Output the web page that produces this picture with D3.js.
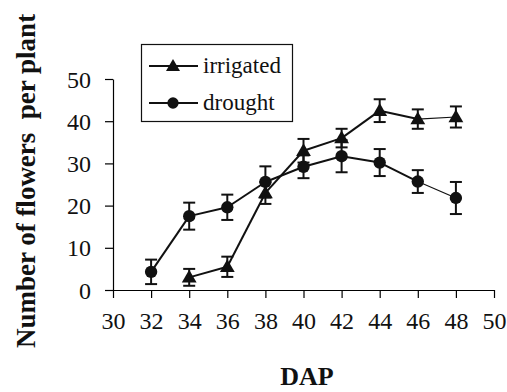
<!DOCTYPE html>
<html>
<head>
<meta charset="utf-8">
<script src="https://cdn.jsdelivr.net/npm/d3@7.9.0/dist/d3.min.js"></script>
<style>
  body { margin: 0; background: #fff; }
  svg text { font-family: 'Liberation Serif', 'Times New Roman', Times, serif; }
</style>
</head>
<body>
<svg width="507" height="392"></svg>
<script>
// values
const dap = [32, 34, 36, 38, 40, 42, 44, 46, 48];
const irrigated = [null, 3, 5.5, 23, 33, 36, 42.5, 40.5, 41];
const irrigatedErr = [null, 2, 2.4, 2.6, 2.8, 2.2, 2.7, 2.3, 2.5];
const drought = [4.3, 17.5, 19.6, 25.6, 29.2, 31.7, 30.2, 25.7, 21.8];
const droughtErr = [2.9, 3.2, 3, 3.7, 2.7, 3.8, 3.2, 2.7, 3.8];
const xTicks = [30, 32, 34, 36, 38, 40, 42, 44, 46, 48, 50];
const yTicks = [0, 10, 20, 30, 40, 50];

const serif = "'Liberation Serif', 'Times New Roman', Times, serif";
const svg = d3.select("svg");
const x = d3.scaleLinear().domain([30, 50]).range([113, 494]);
const y = d3.scaleLinear().domain([0, 50]).range([290, 79]);

// axes
const xAxis = svg.append("g")
  .attr("transform", `translate(0,${y(0)})`)
  .call(d3.axisBottom(x).tickValues(xTicks).tickSize(8).tickPadding(14).tickSizeOuter(0));
const yAxis = svg.append("g")
  .attr("transform", `translate(${x(30)},0)`)
  .call(d3.axisLeft(y).tickValues(yTicks).tickSize(8).tickPadding(14).tickSizeOuter(0));
[xAxis, yAxis].forEach(g => {
  g.attr("font-family", serif).attr("font-size", 24);
  g.select(".domain").attr("stroke", "#000").attr("stroke-width", 1.2);
  g.selectAll(".tick line").attr("stroke", "#000").attr("stroke-width", 1.2);
  g.selectAll(".tick text").attr("fill", "#111");
});
xAxis.selectAll(".tick text").attr("dy", "0.71em");
yAxis.selectAll(".tick text").attr("dy", "0.34em");

// titles
svg.append("text").attr("x", 307).attr("y", 385).attr("text-anchor", "middle")
  .attr("font-family", serif).attr("font-size", 26).attr("font-weight", "bold")
  .attr("fill", "#111").text("DAP");
svg.append("text").attr("transform", "translate(35,181) rotate(-90)").attr("text-anchor", "middle")
  .attr("font-family", serif).attr("font-size", 27).attr("font-weight", "bold")
  .attr("fill", "#111").text("Number of flowers\u00a0 per plant");

const series = [
  { name: "irrigated", vals: irrigated, err: irrigatedErr, shape: d3.symbolTriangle },
  { name: "drought", vals: drought, err: droughtErr, shape: d3.symbolCircle }
];

series.forEach(s => {
  const pts = dap.map((d, i) => ({ d, v: s.vals[i], e: s.err[i] })).filter(p => p.v != null);
  const g = svg.append("g");
  // error bars
  pts.forEach(p => {
    g.append("line").attr("x1", x(p.d)).attr("x2", x(p.d))
      .attr("y1", y(p.v - p.e)).attr("y2", y(p.v + p.e))
      .attr("stroke", "#111").attr("stroke-width", 2);
    [p.v - p.e, p.v + p.e].forEach(ev => {
      g.append("line").attr("x1", x(p.d) - 6).attr("x2", x(p.d) + 6)
        .attr("y1", y(ev)).attr("y2", y(ev))
        .attr("stroke", "#111").attr("stroke-width", 2);
    });
  });
  // connecting segments (last one thinner, as in the picture)
  d3.pairs(pts).forEach(([a, b], i, arr) => {
    g.append("line").attr("x1", x(a.d)).attr("y1", y(a.v)).attr("x2", x(b.d)).attr("y2", y(b.v))
      .attr("stroke", "#111").attr("stroke-width", i === arr.length - 1 ? 1.2 : 2);
  });
  // markers
  g.selectAll("path.m").data(pts).join("path").attr("class", "m")
    .attr("d", d3.symbol().type(s.shape).size(s.shape === d3.symbolCircle ? 120 : 95))
    .attr("transform", p => `translate(${x(p.d)},${y(p.v) + (s.shape === d3.symbolTriangle ? 1 : 0)})`)
    .attr("fill", "#111");
});

// legend
const lg = svg.append("g");
lg.append("rect").attr("x", 141.5).attr("y", 44.5).attr("width", 151).attr("height", 77)
  .attr("fill", "#fff").attr("stroke", "#111").attr("stroke-width", 1.2);
series.forEach((s, i) => {
  const cy = 66 + i * 37;
  lg.append("line").attr("x1", 149).attr("x2", 198).attr("y1", cy).attr("y2", cy)
    .attr("stroke", "#111").attr("stroke-width", 2);
  lg.append("path").attr("d", d3.symbol().type(s.shape).size(s.shape === d3.symbolCircle ? 100 : 85))
    .attr("transform", `translate(173,${cy + (i === 0 ? 1 : 0)})`).attr("fill", "#111");
  lg.append("text").attr("x", 203).attr("y", cy).attr("dy", "0.3em")
    .attr("font-family", serif).attr("font-size", 23).attr("fill", "#111").text(s.name);
});
</script>
</body>
</html>
